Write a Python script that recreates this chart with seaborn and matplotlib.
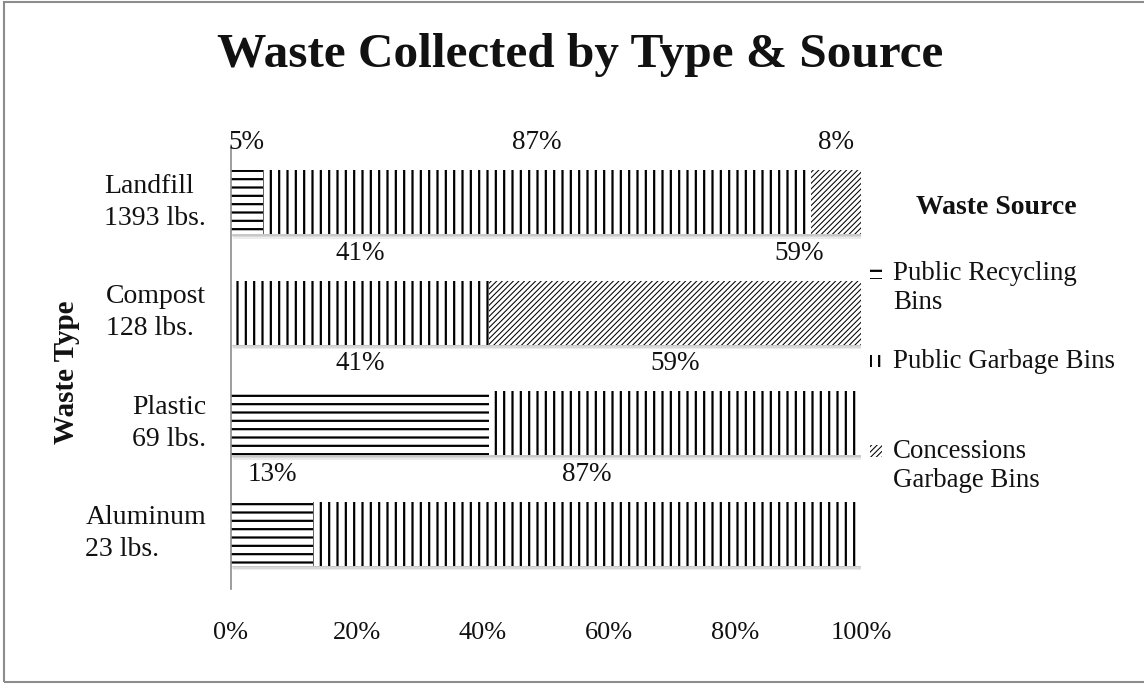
import numpy as np
import pandas as pd
import matplotlib
matplotlib.use("Agg")
import matplotlib.pyplot as plt
import matplotlib.patheffects as pe
import matplotlib.transforms as mtransforms
from matplotlib.patches import Rectangle
import seaborn as sns

# ---- data -------------------------------------------------------------
waste_types = ["Landfill", "Compost", "Plastic", "Aluminum"]
weights_lbs = [1393, 128, 69, 23]
sources = ["Public Recycling Bins", "Public Garbage Bins", "Concessions Garbage Bins"]
recycling_pct = [5, 0, 41, 13]
garbage_pct = [87, 41, 59, 87]
concessions_pct = [8, 59, 0, 0]
x_ticks = [0, 20, 40, 60, 80, 100]

# label nudges (percent units) for labels moved off their segment centre
label_shift = {("Compost", 2): 19.7}

# ---- styling ----------------------------------------------------------
sns.set_theme(style="white")
plt.rcParams["font.family"] = ["Liberation Serif", "DejaVu Serif"]
plt.rcParams["hatch.linewidth"] = 1.6

W, H = 1144, 684
fig = plt.figure(figsize=(W / 100, H / 100), dpi=100)
ax = fig.add_axes([231 / W, 1 - 589 / H, 630 / W, 442 / H])

df = pd.DataFrame({
    "type": waste_types,
    "recycling": recycling_pct,
    "garbage": garbage_pct,
    "concessions": concessions_pct,
})
df["cum_garbage"] = df["recycling"] + df["garbage"]
df["cum_all"] = df["cum_garbage"] + df["concessions"]

hatches = ["--", "||", "//////"]
bar_w = 0.58
txt_color = "#111111"

# stacked bars: draw cumulative totals back to front
layers = [("cum_all", hatches[2]), ("cum_garbage", hatches[1]), ("recycling", hatches[0])]
for k, (col, hatch) in enumerate(layers):
    n_before = len(ax.patches)
    sns.barplot(data=df, x=col, y="type", order=waste_types, orient="h",
                color="white", saturation=1, edgecolor="black", linewidth=0,
                hatch=hatch, width=bar_w, ax=ax)
    for p in ax.patches[n_before:]:
        if hatch.startswith("/"):
            try:
                p.set_hatch_linewidth(0.75)
            except AttributeError:
                pass
        if k == 0:
            p.set_path_effects([
                pe.SimplePatchShadow(offset=(1.5, -3.2), shadow_rgbFace="0.6",
                                     alpha=0.18, hatch=None),
                pe.SimplePatchShadow(offset=(1.0, -2.0), shadow_rgbFace="0.6",
                                     alpha=0.22, hatch=None),
                pe.SimplePatchShadow(offset=(0.6, -1.0), shadow_rgbFace="0.6",
                                     alpha=0.25, hatch=None),
                pe.Normal(),
            ])

# percentage labels above each segment
for i, t in enumerate(waste_types):
    vals = [recycling_pct[i], garbage_pct[i], concessions_pct[i]]
    left = 0
    for j, v in enumerate(vals):
        if v > 0:
            xc = left + v / 2 + label_shift.get((t, j), 0)
            ax.text(xc, i - 0.54, f"{v}%", ha="center", va="center",
                    fontsize=19.5, color=txt_color)
        left += v

# axes
ax.set_xlim(0, 100)
ax.set_ylim(len(waste_types) - 0.5, -0.5)
ax.set_xticks(x_ticks)
ax.set_xticklabels([f"{v}%" for v in x_ticks], fontsize=19)
ax.set_yticks(range(len(waste_types)))
ax.set_yticklabels([])
ax.tick_params(axis="x", length=0, pad=24, colors=txt_color)
ax.tick_params(axis="y", length=0)

# two-line category labels (name + weight), block right-aligned, lines left-aligned
ylab_tr = mtransforms.blended_transform_factory(ax.transAxes, ax.transData)
for i, (t, w) in enumerate(zip(waste_types, weights_lbs)):
    ax.text(-0.0397, i, f"{t}\n{w} lbs.", transform=ylab_tr,
            ha="right", va="center", multialignment="left",
            fontsize=20, linespacing=1.38, color=txt_color)

ax.set_xlabel("")
ax.set_ylabel("Waste Type", fontsize=21, fontweight="bold", color=txt_color)
ax.yaxis.set_label_coords(-0.239, 0.49)
for s in ["top", "right", "bottom"]:
    ax.spines[s].set_visible(False)
ax.spines["left"].set_color("0.55")
ax.spines["left"].set_linewidth(1.2)
ax.grid(False)

# title
fig.text(580 / W, 1 - 55 / H, "Waste Collected by Type & Source",
         ha="center", va="center", fontsize=35.5, fontweight="bold", color=txt_color)

# legend
fig.text(996 / W, 1 - 208 / H, "Waste Source", ha="center", va="center",
         fontsize=20, fontweight="bold", color=txt_color)
leg_y = [273, 361, 451]
leg_labels = ["Public Recycling\nBins", "Public Garbage Bins", "Concessions\nGarbage Bins"]
for y, lab, h in zip(leg_y, leg_labels, hatches):
    r = Rectangle((870 / W, 1 - (y + 6) / H), 12 / W, 12 / H, transform=fig.transFigure,
                  facecolor="white", edgecolor="black", linewidth=0, hatch=h)
    if h.startswith("/"):
        try:
            r.set_hatch_linewidth(0.75)
        except AttributeError:
            pass
    fig.add_artist(r)
    fig.text(893 / W, 1 - (y - 12) / H, lab, ha="left", va="top", fontsize=19.4,
             linespacing=1.22, color=txt_color)

# outer frame
fig.add_artist(Rectangle((4 / W, 2 / H), 1.2, 1 - 4 / H, transform=fig.transFigure,
                         fill=False, edgecolor="0.55", linewidth=1.5))

fig.savefig("out.png", dpi=100, facecolor="white")
